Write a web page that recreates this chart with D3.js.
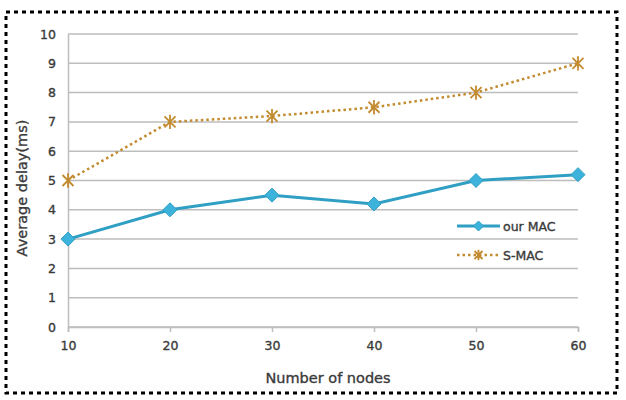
<!DOCTYPE html>
<html>
<head>
<meta charset="utf-8">
<script src="https://cdn.jsdelivr.net/npm/d3@7"></script>
<style>
	body { margin: 0; background: #fff; }
	svg text { font-family: "DejaVu Sans", sans-serif; fill: #3a3a3a; stroke: #3a3a3a; stroke-width: 0.35px; }
</style>
</head>
<body>
<svg id="chart" width="626" height="400"></svg>
<script>
const nodes = [ 10, 20, 30, 40, 50, 60 ];
const ourMac = [ 3, 4, 4.5, 4.2, 5, 5.2 ];
const sMac = [ 5, 7, 7.2, 7.5, 8, 9 ];
const yTicks = [ 0, 1, 2, 3, 4, 5, 6, 7, 8, 9, 10 ];

const svg = d3.select( '#chart' );

// dotted frame round the whole figure
svg.append( 'rect' )
	.attr( 'x', 6 )
	.attr( 'y', 12 )
	.attr( 'width', 611 )
	.attr( 'height', 381 )
	.attr( 'fill', 'none' )
	.attr( 'stroke', '#000' )
	.attr( 'stroke-width', 3 )
	.attr( 'stroke-dasharray', '4 4' );

const margin = { top: 34, left: 68, right: 48, bottom: 73 };
const width = 626 - margin.left - margin.right;
const height = 400 - margin.top - margin.bottom;

const g = svg.append( 'g' )
	.attr( 'transform', `translate(${ margin.left },${ margin.top })` );

const x = d3.scaleLinear().domain( [ 10, 60 ] ).range( [ 0, width ] );
const y = d3.scaleLinear().domain( [ 0, 10 ] ).range( [ height, 0 ] );

// gridlines
g.selectAll( '.grid' )
	.data( yTicks )
	.enter()
	.append( 'line' )
	.attr( 'x1', 0 )
	.attr( 'x2', width )
	.attr( 'y1', ( d ) => y( d ) )
	.attr( 'y2', ( d ) => y( d ) )
	.attr( 'stroke', '#bdbdbd' )
	.attr( 'stroke-width', 1.5 );

// y axis
const yAxis = g.append( 'g' )
	.call( d3.axisLeft( y ).tickValues( yTicks ).tickSize( 0 ).tickPadding( 12 ) );
yAxis.select( '.domain' ).attr( 'stroke', '#bdbdbd' ).attr( 'stroke-width', 1.5 );
yAxis.selectAll( 'text' ).style( 'font-size', '12.5px' );

// x axis
const xAxis = g.append( 'g' )
	.attr( 'transform', `translate(0,${ height })` )
	.call( d3.axisBottom( x ).tickValues( nodes ).tickSize( 5 ).tickPadding( 9 ) );
xAxis.select( '.domain' ).attr( 'stroke', '#bdbdbd' ).attr( 'stroke-width', 1.5 );
xAxis.selectAll( 'line' ).attr( 'stroke', '#bdbdbd' ).attr( 'stroke-width', 1.5 );
xAxis.selectAll( 'text' ).style( 'font-size', '12.5px' );

// axis titles
svg.append( 'text' )
	.attr( 'x', 328 )
	.attr( 'y', 383 )
	.attr( 'text-anchor', 'middle' )
	.style( 'font-size', '14.5px' )
	.text( 'Number of nodes' );

svg.append( 'text' )
	.attr( 'transform', 'translate(27,188) rotate(-90)' )
	.attr( 'text-anchor', 'middle' )
	.style( 'font-size', '14.5px' )
	.text( 'Average delay(ms)' );

const blue = '#2f9fc4';
const gold = '#c38b2f';

const line = d3.line()
	.x( ( d, i ) => x( nodes[ i ] ) )
	.y( ( d ) => y( d ) );

g.append( 'path' )
	.datum( sMac )
	.attr( 'd', line )
	.attr( 'fill', 'none' )
	.attr( 'stroke', gold )
	.attr( 'stroke-width', 2.5 )
	.attr( 'stroke-dasharray', '2.5 3' );

g.append( 'path' )
	.datum( ourMac )
	.attr( 'd', line )
	.attr( 'fill', 'none' )
	.attr( 'stroke', blue )
	.attr( 'stroke-width', 3 );

function star( sel, cx, cy, r ) {
	sel.append( 'path' )
		.attr( 'd', `M${ cx - r },${ cy - r }L${ cx + r },${ cy + r }M${ cx - r },${ cy + r }L${ cx + r },${ cy - r }M${ cx },${ cy - r * 1.3 }L${ cx },${ cy + r * 1.3 }` )
		.attr( 'stroke', gold )
		.attr( 'stroke-width', 1.8 )
		.attr( 'fill', 'none' );
}

function diamond( sel, cx, cy, r ) {
	sel.append( 'path' )
		.attr( 'd', `M${ cx },${ cy - r }L${ cx + r },${ cy }L${ cx },${ cy + r }L${ cx - r },${ cy }Z` )
		.attr( 'fill', '#3db3dc' )
		.attr( 'stroke', blue )
		.attr( 'stroke-width', 1 );
}

sMac.forEach( ( d, i ) => star( g, x( nodes[ i ] ), y( d ), 5.5 ) );
ourMac.forEach( ( d, i ) => diamond( g, x( nodes[ i ] ), y( d ), 7 ) );

// legend
const legend = svg.append( 'g' );
legend.append( 'line' )
	.attr( 'x1', 457 ).attr( 'x2', 500 )
	.attr( 'y1', 226 ).attr( 'y2', 226 )
	.attr( 'stroke', blue ).attr( 'stroke-width', 3 );
diamond( legend, 478.5, 226, 5 );
legend.append( 'text' )
	.attr( 'x', 503 ).attr( 'y', 230.5 )
	.style( 'font-size', '12.5px' )
	.text( 'our MAC' );

legend.append( 'line' )
	.attr( 'x1', 457 ).attr( 'x2', 500 )
	.attr( 'y1', 255 ).attr( 'y2', 255 )
	.attr( 'stroke', gold ).attr( 'stroke-width', 2.5 )
	.attr( 'stroke-dasharray', '2.5 3' );
star( legend, 478.5, 255, 4 );
legend.append( 'text' )
	.attr( 'x', 503 ).attr( 'y', 259.5 )
	.style( 'font-size', '12.5px' )
	.text( 'S-MAC' );
</script>
</body>
</html>
